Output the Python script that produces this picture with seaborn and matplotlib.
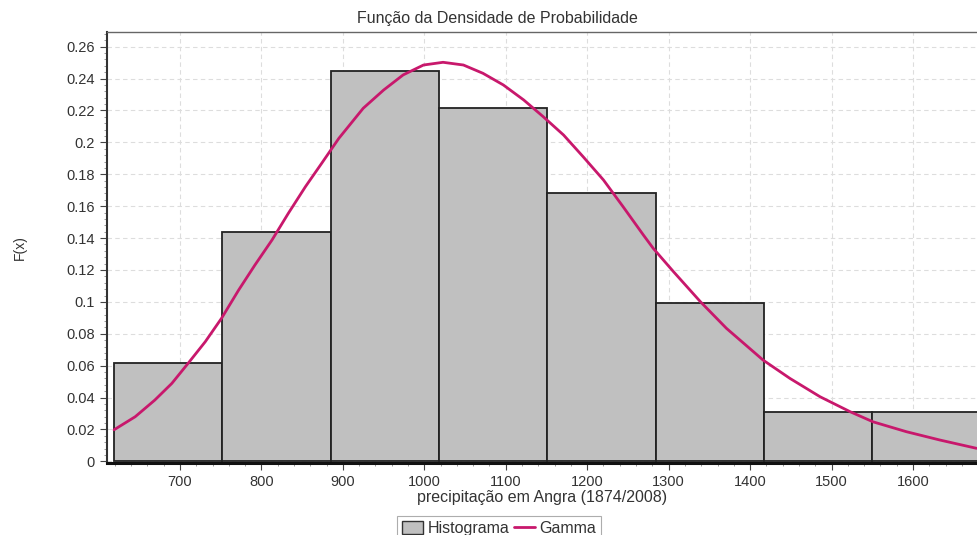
import numpy as np
import pandas as pd
import seaborn as sns
import matplotlib.pyplot as plt
from matplotlib.patches import Patch
from matplotlib.lines import Line2D
from matplotlib.ticker import MultipleLocator

# histogram bins (precipitation, mm) and relative frequencies
bin_edges = [619, 752, 885, 1018, 1151, 1284, 1417, 1550, 1683]
bin_heights = [0.0615, 0.144, 0.2445, 0.2215, 0.168, 0.0995, 0.0307, 0.0307]

# fitted gamma curve
gamma_x = [619, 645, 669, 690, 710, 731, 751, 772, 792, 813, 833, 854, 874,
           895, 925, 950, 974, 999, 1023, 1048, 1072, 1097, 1122, 1146, 1171,
           1195, 1220, 1244, 1269, 1281, 1306, 1339, 1371, 1416, 1449, 1486,
           1523, 1551, 1592, 1633, 1678]
gamma_y = [0.0198, 0.028, 0.0384, 0.0489, 0.0615, 0.075, 0.0897, 0.1074,
           0.1231, 0.1388, 0.1555, 0.1722, 0.1869, 0.2025, 0.2214, 0.2328,
           0.2423, 0.2485, 0.2502, 0.2485, 0.2433, 0.236, 0.2266, 0.2161,
           0.2046, 0.191, 0.1764, 0.1597, 0.1419, 0.1336, 0.1189, 0.1001,
           0.0834, 0.0635, 0.052, 0.0405, 0.0311, 0.0248, 0.0186, 0.0134,
           0.0082]

bin_centers = [(a + b) / 2 for a, b in zip(bin_edges[:-1], bin_edges[1:])]
hist_df = pd.DataFrame({'x': bin_centers, 'w': bin_heights})
curve_df = pd.DataFrame({'x': gamma_x, 'y': gamma_y})

sns.set_theme(style="white")
plt.rcParams['font.family'] = ['Liberation Sans', 'DejaVu Sans']

fig = plt.figure(figsize=(9.77, 5.35), dpi=100)
ax = fig.add_axes([0.1092, 0.1346, 0.8908, 0.8056])

bar_color = '#c0c0c0'
line_color = '#c8186c'

sns.histplot(data=hist_df, x='x', weights='w', bins=bin_edges, stat='count',
             color=bar_color, alpha=1, edgecolor='#222222', linewidth=1.3,
             ax=ax, zorder=2)
sns.lineplot(data=curve_df, x='x', y='y', color=line_color, linewidth=2,
             ax=ax, zorder=3)

ax.set_xlim(610, 1678.6)
ax.set_ylim(-0.001, 0.2692)
ax.xaxis.set_major_locator(MultipleLocator(100))
ax.xaxis.set_minor_locator(MultipleLocator(20))
ax.yaxis.set_major_locator(MultipleLocator(0.02))
ax.yaxis.set_minor_locator(MultipleLocator(0.004))
ax.yaxis.set_major_formatter(plt.FuncFormatter(lambda v, p: f"{v:g}"))

ax.grid(True, which='major', color='#dddddd', linestyle=(0, (4, 3)),
        linewidth=0.8, zorder=0)
ax.set_axisbelow(True)

ax.tick_params(axis='both', which='major', labelsize=10.5, colors='#444444',
               length=5, width=0.8, direction='out', bottom=True, left=True)
ax.tick_params(axis='both', which='minor', length=2.5, width=0.6,
               colors='#888888', bottom=True, left=True)
for lab in ax.get_xticklabels() + ax.get_yticklabels():
    lab.set_color('#333333')

ax.spines['left'].set_color('#333333')
ax.spines['left'].set_linewidth(1.5)
ax.spines['bottom'].set_color('#111111')
ax.spines['bottom'].set_linewidth(2.2)
ax.spines['top'].set_color('#666666')
ax.spines['top'].set_linewidth(1.0)
ax.spines['right'].set_visible(False)

ax.set_xlabel('precipitação em Angra (1874/2008)', fontsize=11.5,
              color='#333333', labelpad=1)
ax.set_ylabel('F(x)', fontsize=10, color='#333333', labelpad=28)
fig.text(0.509, 0.966, 'Função da Densidade de Probabilidade', ha='center',
         va='center', fontsize=11.5, color='#333333')

handles = [Patch(facecolor=bar_color, edgecolor='#333333', linewidth=1),
           Line2D([0], [0], color=line_color, linewidth=2)]
leg = ax.legend(handles, ['Histograma', 'Gamma'], loc='upper center',
                bbox_to_anchor=(0.511, 0.036), bbox_transform=fig.transFigure,
                ncol=2, frameon=True, fancybox=False, fontsize=11.5,
                handlelength=1.3, handleheight=0.9, handletextpad=0.3,
                columnspacing=0.3, borderpad=0.3, borderaxespad=0)
leg.get_frame().set_edgecolor('#999999')
leg.get_frame().set_linewidth(0.8)
for t in leg.get_texts():
    t.set_color('#333333')

fig.savefig('out.png', dpi=100)
